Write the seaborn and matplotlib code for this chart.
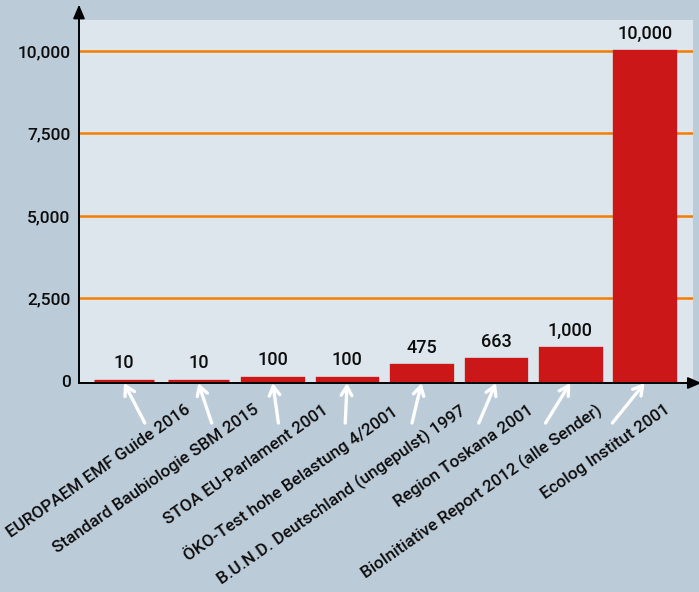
import pandas as pd
import matplotlib
matplotlib.use("Agg")
import matplotlib.pyplot as plt
import seaborn as sns

# Data
studien = [
    "EUROPAEM EMF Guide 2016",
    "Standard Baubiologie SBM 2015",
    "STOA EU-Parlament 2001",
    "ÖKO-Test hohe Belastung 4/2001",
    "B.U.N.D. Deutschland (ungepulst) 1997",
    "Region Toskana 2001",
    "BioInitiative Report 2012 (alle Sender)",
    "Ecolog Institut 2001",
]
werte = [10, 10, 100, 100, 475, 663, 1000, 10000]
wert_labels = ["10", "10", "100", "100", "475", "663", "1,000", "10,000"]
y_ticks = [0, 2500, 5000, 7500, 10000]

df = pd.DataFrame({"studie": studien, "wert": werte})

sns.set_theme(style="white")
plt.rcParams["font.family"] = ["Roboto", "DejaVu Sans"]
plt.rcParams["font.weight"] = 500

bg = "#bccbd8"
txt = "#0d0d0d"
red = "#cc1719"
fig = plt.figure(figsize=(6.99, 5.92), dpi=100, facecolor=bg)
ax = fig.add_axes([79 / 699, 1 - 383 / 592, 614 / 699, 363 / 592])
ax.set_facecolor("#dce6ec")

sns.barplot(data=df, x="studie", y="wert", color=red, saturation=1,
            width=0.815, edgecolor=red, linewidth=2.4, ax=ax)

ax.set_xlim(-0.605, 7.65)
ax.set_ylim(-61, 10939)
ax.set_yticks(y_ticks)
ax.set_yticklabels([f"{t:,}" for t in y_ticks], fontsize=12.5, color=txt)
ax.tick_params(axis="y", length=0, pad=6)
ax.set_xticks(range(len(studien)))
ax.set_xticklabels([])
ax.tick_params(axis="x", length=0)
ax.set_xlabel("")
ax.set_ylabel("")

# orange gridlines (not at zero)
ax.set_axisbelow(True)
for t in y_ticks[1:]:
    ax.axhline(t, color="#f07d00", lw=1.8, zorder=0.5)

for s in ["top", "right"]:
    ax.spines[s].set_visible(False)
for s in ["left", "bottom"]:
    ax.spines[s].set_color("black")
    ax.spines[s].set_linewidth(1.2)
    ax.spines[s].set_zorder(5)

# axis arrows
ax.annotate("", xy=(1.014, 0), xycoords="axes fraction", xytext=(0, 0),
            arrowprops=dict(arrowstyle="-|>,head_length=0.7,head_width=0.3",
                            color="black", lw=1.2, shrinkA=0, shrinkB=0),
            annotation_clip=False, zorder=6)
ax.annotate("", xy=(0, 1.042), xycoords="axes fraction", xytext=(0, 0),
            arrowprops=dict(arrowstyle="-|>,head_length=0.7,head_width=0.3",
                            color="black", lw=1.2, shrinkA=0, shrinkB=0),
            annotation_clip=False, zorder=6)

# value labels
ax.bar_label(ax.containers[0], labels=wert_labels, padding=6,
             fontsize=13, color=txt)

# rotated labels with white arrows pointing to the bars
trans = ax.get_xaxis_transform()
for i, name in enumerate(studien):
    lx = 0.82 + 0.921 * i
    tx = 0.28 + 0.898 * i
    ax.text(lx, -19 / 363, name, transform=trans, rotation=35,
            rotation_mode="anchor", ha="right", va="top",
            fontsize=12.3, color=txt)
    ax.annotate("", xy=(i, -61), xycoords="data", xytext=(tx, -40 / 363),
                textcoords=trans,
                arrowprops=dict(arrowstyle="->,head_length=0.55,head_width=0.32",
                                color="white", lw=2.4, shrinkA=0, shrinkB=0),
                annotation_clip=False, zorder=7)

fig.savefig("out.png", dpi=100, facecolor=bg)
